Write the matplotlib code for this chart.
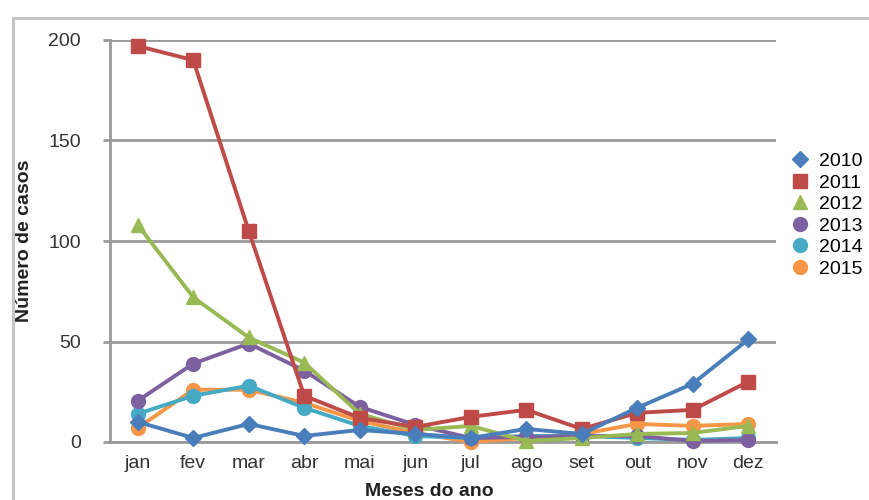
import matplotlib
matplotlib.use("Agg")
import matplotlib.pyplot as plt
from matplotlib.patches import Rectangle

plt.rcParams['font.family'] = ['Liberation Sans', 'DejaVu Sans']

meses = ['jan', 'fev', 'mar', 'abr', 'mai', 'jun', 'jul', 'ago', 'set', 'out', 'nov', 'dez']

casos_2010 = [10, 2, 9, 3, 6, 4, 2, 6.5, 4, 17, 29, 51]
casos_2011 = [197, 190, 105, 23, 12, 7.5, 12.5, 16, 6.5, 14.5, 16, 30]
casos_2012 = [108, 72, 52, 39.5, 14, 6, 8, 0.5, 2, 4, 4.5, 8]
casos_2013 = [20.5, 39, 49, 35.5, 17.5, 8.5, 2, 2.5, 3, 3, 0.5, 1]
casos_2014 = [14, 23, 28, 17, 8, 3, 2, 3, 3, 2, 1, 2]
casos_2015 = [7, 26, 26, 19.5, 10.5, 4.5, 0, 2, 4, 9, 8, 9]

anos = ['2010', '2011', '2012', '2013', '2014', '2015']
series = [casos_2010, casos_2011, casos_2012, casos_2013, casos_2014, casos_2015]
cores = ['#4A7EBB', '#BE4B48', '#98B954', '#7D60A0', '#46AAC5', '#F79646']
marcadores = ['D', 's', '^', 'o', 'o', 'o']
tamanhos = [8, 10, 10, 10, 10, 10]

fig = plt.figure(figsize=(8.7, 5.0), dpi=100)
ax = fig.add_axes([110 / 870, 1 - 442 / 500, 666 / 870, 402 / 500])

# moldura externa do grafico (cortada na direita e embaixo)
fig.patches.append(Rectangle((13 / 870, -0.1), 1.0, 1 - 18 / 500 + 0.1,
                             transform=fig.transFigure, fill=False,
                             edgecolor='#c4c4c4', linewidth=2.2))

x = list(range(len(meses)))
handles = []
for i, (ano, vals) in enumerate(zip(anos, series)):
    ax.plot(x, vals, color=cores[i], linewidth=2.8, marker=marcadores[i],
            markersize=tamanhos[i], zorder=10 - i, clip_on=False)
    h, = ax.plot([], [], linestyle='none', color=cores[i], marker=marcadores[i],
                 markersize=tamanhos[i])
    handles.append(h)

ax.set_xlim(-0.5, 11.5)
ax.set_ylim(0, 200)
ax.set_yticks([0, 50, 100, 150, 200])
ax.set_xticks(x)
ax.set_xticklabels(meses)
ax.yaxis.grid(True, color='#9a9a9a', linewidth=2.0)
ax.set_axisbelow(True)

for s in ['top', 'right']:
    ax.spines[s].set_visible(False)
for s in ['left', 'bottom']:
    ax.spines[s].set_color('#9a9a9a')
    ax.spines[s].set_linewidth(2.0)

ax.tick_params(axis='y', length=5, width=2.0, color='#9a9a9a', pad=16,
               labelsize=14, labelcolor='#333333')
ax.tick_params(axis='x', length=0, pad=9, labelsize=14, labelcolor='#333333')

ax.set_ylabel('Número de casos', fontsize=14, fontweight='bold', color='#222222')
ax.yaxis.set_label_coords(-86 / 666, 0.5)
ax.yaxis.label.set_va('center')
ax.set_xlabel('Meses do ano', fontsize=14, fontweight='bold', color='#222222')
ax.xaxis.set_label_coords(0.48, -41 / 402)

fig.legend(handles, anos, loc='center left', bbox_to_anchor=(790 / 870, 1 - 215 / 500),
           frameon=False, fontsize=14, handlelength=1.0, handletextpad=0.5,
           labelspacing=0.2, borderpad=0, borderaxespad=0)

fig.savefig('out.png', dpi=100)
